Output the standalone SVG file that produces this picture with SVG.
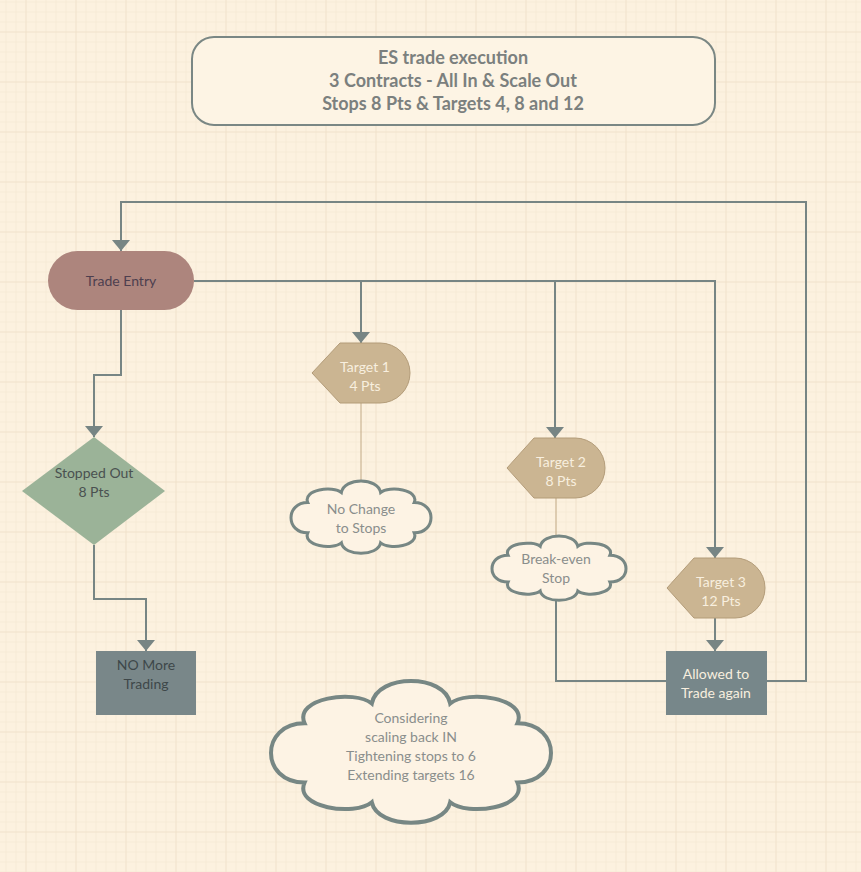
<svg xmlns="http://www.w3.org/2000/svg" width="861" height="872" viewBox="0 0 861 872">
<defs>
<pattern id="minor" patternUnits="userSpaceOnUse" x="5.5" y="1.5" width="10" height="10">
<path d="M0,0 H10 M0,0 V10" fill="none" stroke="#f2e5cf" stroke-width="1"/>
</pattern>
<pattern id="major" patternUnits="userSpaceOnUse" x="25.5" y="31.5" width="50" height="50">
<path d="M0,0 H50 M0,0 V50" fill="none" stroke="#ebdcc4" stroke-width="1"/>
</pattern>
<marker id="arr" markerUnits="userSpaceOnUse" markerWidth="11" markerHeight="18" refX="11" refY="9" orient="auto" viewBox="0 0 11 18">
<path d="M0,0 L11,9 L0,18 Z" fill="#778584"/>
</marker>
</defs>
<style>
text{font-family:Lato,"Liberation Sans",sans-serif;font-size:14px;text-anchor:middle}
.title{font-size:18px;font-weight:bold;fill:#7b807e}
.conn{fill:none;stroke:#778584;stroke-width:2}
.thin{fill:none;stroke:#c2aa86;stroke-width:1}
.target{fill:#cbb592;stroke:#b39c79;stroke-width:1}
.tt{fill:#f8efdf}
.cloud{fill:#fdf3e4;stroke:#778784;vector-effect:non-scaling-stroke}
.ct{fill:#8a8e8c}
</style>
<rect width="861" height="872" fill="#fcf1df"/>
<rect width="861" height="872" fill="url(#minor)"/>
<rect width="861" height="872" fill="url(#major)"/>

<g id="connectors">
<path class="conn" d="M767,681 H806 V202 H121 V251" marker-end="url(#arr)"/>
<path class="conn" d="M194,281 H715 V558" marker-end="url(#arr)"/>
<path class="conn" d="M361,281 V343" marker-end="url(#arr)"/>
<path class="conn" d="M555,281 V438" marker-end="url(#arr)"/>
<path class="conn" d="M121,310 V375 H94 V437" marker-end="url(#arr)"/>
<path class="conn" d="M94,545 V599 H146 V651" marker-end="url(#arr)"/>
<path class="conn" d="M715,618 V651" marker-end="url(#arr)"/>
<path class="conn" d="M556,599 V681 H666"/>
<path class="thin" d="M361,403 V487"/>
<path class="thin" d="M556,498 V537"/>
</g>

<g id="title">
<rect x="192" y="37" width="523" height="88" rx="22" fill="#fdf4e4" stroke="#7a8784" stroke-width="2"/>
<text class="title" x="453" y="64">ES trade execution</text>
<text class="title" x="453" y="87">3 Contracts - All In &amp; Scale Out</text>
<text class="title" x="453" y="110">Stops 8 Pts &amp; Targets 4, 8 and 12</text>
</g>

<g id="trade-entry">
<rect x="48" y="251" width="146" height="59" rx="29.5" fill="#ad857d"/>
<text x="121" y="286" fill="#4d3f4f">Trade Entry</text>
</g>

<g id="stopped-out">
<path d="M94,437 L165,491 L94,545 L22,491 Z" fill="#9bb398"/>
<text x="94" y="478" fill="#4a5150">Stopped Out</text>
<text x="94" y="497" fill="#4a5150">8 Pts</text>
</g>

<g id="no-more-trading">
<rect x="96" y="651" width="100" height="64" fill="#798789"/>
<text x="146" y="670" fill="#3e4749">NO More</text>
<text x="146" y="689" fill="#3e4749">Trading</text>
</g>

<g id="target1">
<path class="target" d="M340,343 H380 A30,30 0 0 1 380,403 H340 L312,373 Z"/>
<text class="tt" x="365" y="372">Target 1</text>
<text class="tt" x="365" y="391">4 Pts</text>
</g>

<g id="target2">
<path class="target" d="M534,438 H575 A30,30 0 0 1 575,498 H534 L507,468 Z"/>
<text class="tt" x="561" y="467">Target 2</text>
<text class="tt" x="561" y="486">8 Pts</text>
</g>

<g id="target3">
<path class="target" d="M694,558 H735 A30,30 0 0 1 735,618 H694 L667,588 Z"/>
<text class="tt" x="721" y="587">Target 3</text>
<text class="tt" x="721" y="606">12 Pts</text>
</g>

<g id="allowed">
<rect x="666" y="651" width="101" height="64" fill="#77878a"/>
<text class="tt" x="716" y="679">Allowed to</text>
<text class="tt" x="716" y="698">Trade again</text>
</g>

<g id="cloud-no-change">
<path class="cloud" stroke-width="3" transform="translate(291,481) scale(1.4,0.72)" d="M12,30 C8,12 30,6 36,16 C38,-5.33 62,-5.33 64,16 C70,6 92,12 88,30 C104,30 104,72 88,72 C92,90 70,96 64,86 C62,105.33 38,105.33 36,86 C30,96 8,90 12,72 C-4,72 -4,30 12,30 Z"/>
<text class="ct" x="361" y="514">No Change</text>
<text class="ct" x="361" y="533">to Stops</text>
</g>

<g id="cloud-break-even">
<path class="cloud" stroke-width="3" transform="translate(492,536) scale(1.34,0.64)" d="M12,30 C8,12 30,6 36,16 C38,-5.33 62,-5.33 64,16 C70,6 92,12 88,30 C104,30 104,72 88,72 C92,90 70,96 64,86 C62,105.33 38,105.33 36,86 C30,96 8,90 12,72 C-4,72 -4,30 12,30 Z"/>
<text class="ct" x="556" y="564">Break-even</text>
<text class="ct" x="556" y="583">Stop</text>
</g>

<g id="cloud-considering">
<path class="cloud" stroke-width="4" transform="translate(271,681) scale(2.8,1.41)" d="M12,30 C8,12 30,6 36,16 C38,-5.33 62,-5.33 64,16 C70,6 92,12 88,30 C104,30 104,72 88,72 C92,90 70,96 64,86 C62,105.33 38,105.33 36,86 C30,96 8,90 12,72 C-4,72 -4,30 12,30 Z"/>
<text class="ct" x="411" y="723">Considering</text>
<text class="ct" x="411" y="742">scaling back IN</text>
<text class="ct" x="411" y="761">Tightening stops to 6</text>
<text class="ct" x="411" y="780">Extending targets 16</text>
</g>
</svg>
